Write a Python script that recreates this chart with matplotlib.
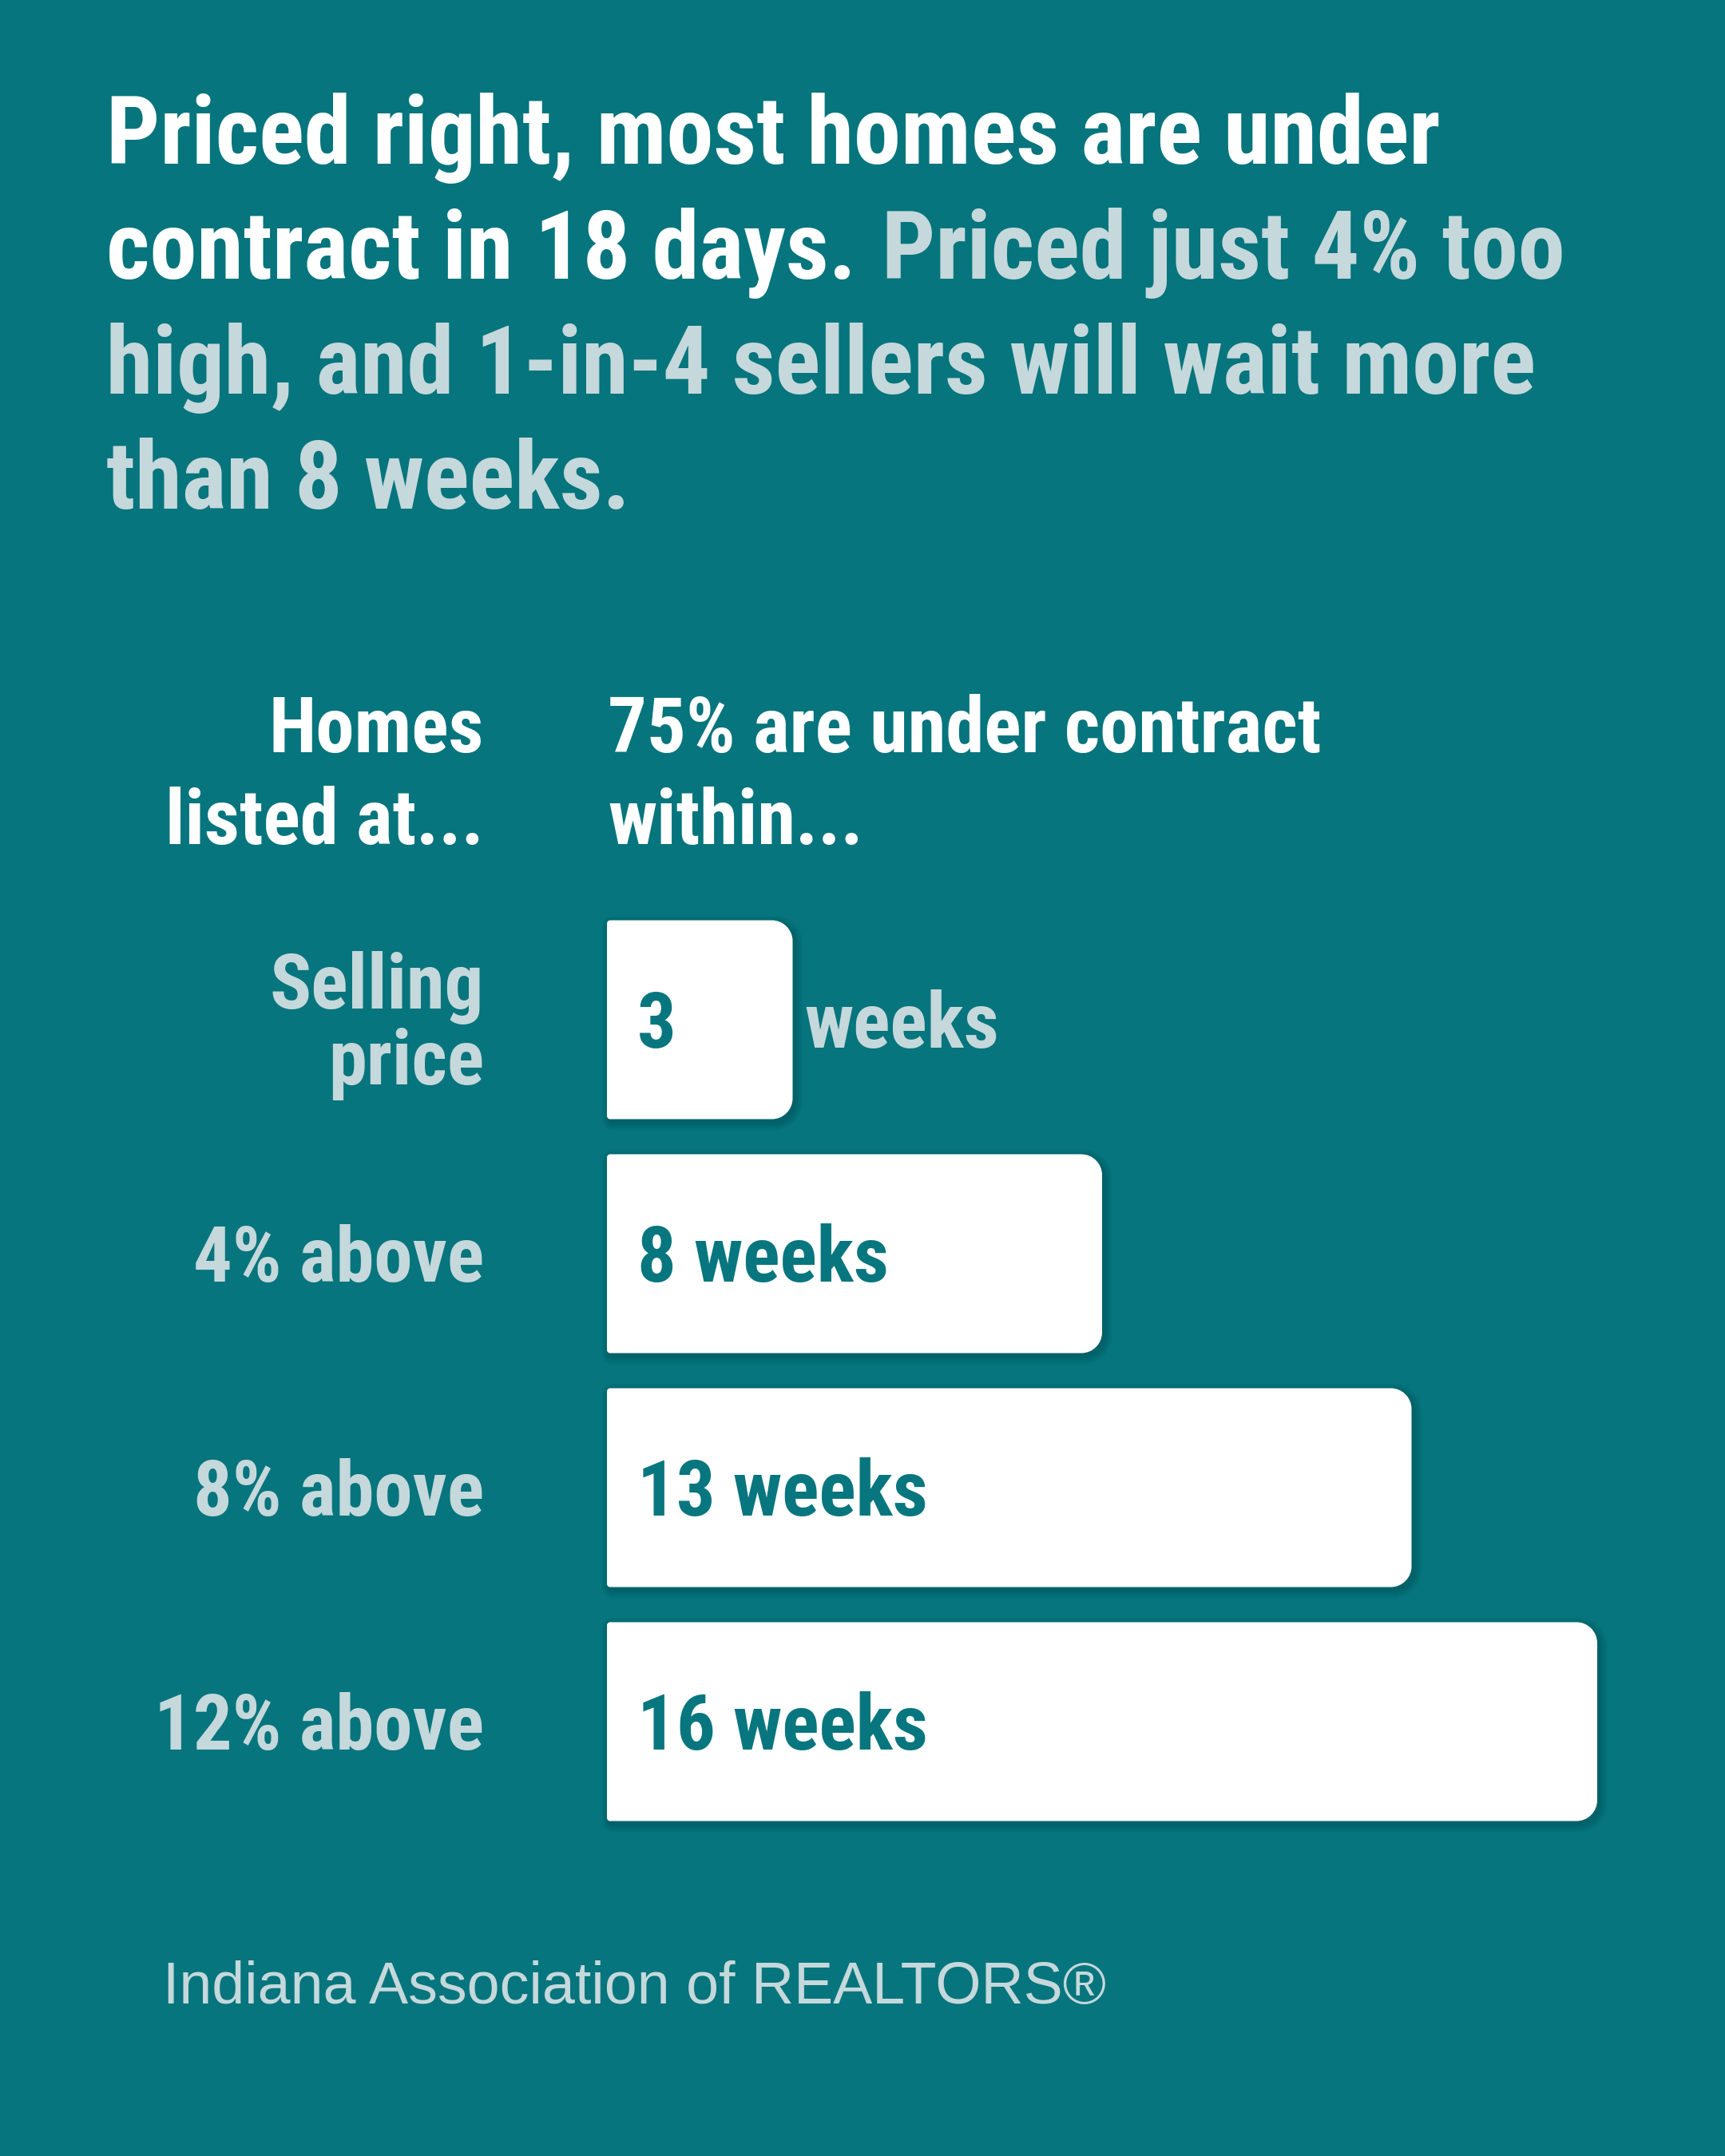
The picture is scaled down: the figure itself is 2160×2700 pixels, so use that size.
import matplotlib
matplotlib.use("Agg")
import matplotlib.pyplot as plt
from matplotlib import font_manager
from matplotlib.path import Path
from matplotlib.patches import PathPatch
from matplotlib.transforms import IdentityTransform

# data
price_levels = ["Selling\nprice", "4% above", "8% above", "12% above"]
weeks = [3, 8, 13, 16]
bar_labels = ["3", "8 weeks", "13 weeks", "16 weeks"]
outside_label = "weeks"  # only the short first bar puts the unit outside

title_lines = [
    [("Priced right, most homes are under", "white")],
    [("contract in 18 days.", "white"), ("Priced just 4% too", "light")],
    [("high, and 1-in-4 sellers will wait more", "light")],
    [("than 8 weeks.", "light")],
]
header_left = ["Homes", "listed at..."]
header_right = ["75% are under contract", "within..."]
footer = "Indiana Association of REALTORS\u00ae"

BG = "#06757D"
LIGHT = "#C5D8DB"
WHITE = "#FFFFFF"
TEAL = "#08767E"
colors = {"white": WHITE, "light": LIGHT}

names = {f.name for f in font_manager.fontManager.ttflist}
cond = "DejaVu Sans"
for cand in ["Liberation Sans Narrow", "Roboto Condensed", "Open Sans Condensed", "Noto Sans Condensed"]:
    if cand in names:
        cond = cand
        break
regular = "Liberation Sans" if "Liberation Sans" in names else "DejaVu Sans"

W, H = 2160, 2700
fig = plt.figure(figsize=(W / 100, H / 100), dpi=100, facecolor=BG)
canvas = fig.add_axes([0, 0, 1, 1])
canvas.set_xlim(0, W)
canvas.set_ylim(H, 0)
canvas.axis("off")
renderer = fig.canvas.get_renderer()


def text_width(s, size, family, weight="bold"):
    t = canvas.text(0, 0, s, fontsize=size, family=family, weight=weight)
    w = t.get_window_extent(renderer).width
    t.remove()
    return w


def fit_size(s, target, family, weight="bold"):
    return 60 * target / text_width(s, 60, family, weight)


# title, sized so that the first line spans the same width as the reference
title_size = fit_size(title_lines[0][0][0], 1672, cond)
title_x = 133
title_base = [205, 349, 493, 637]
gap = 0.27 * title_size * 100 / 72
for base, segs in zip(title_base, title_lines):
    x = title_x
    for s, c in segs:
        canvas.text(x, base, s, fontsize=title_size, family=cond, weight="bold",
                    color=colors[c], va="baseline", ha="left")
        x += text_width(s, title_size, cond) + gap

# column headers
hdr_size = fit_size(header_right[0], 894, cond)
for base, l, r in zip([942, 1057], header_left, header_right):
    canvas.text(606, base, l, fontsize=hdr_size, family=cond, weight="bold",
                color=WHITE, va="baseline", ha="right")
    canvas.text(761, base, r, fontsize=hdr_size, family=cond, weight="bold",
                color=WHITE, va="baseline", ha="left")

# bars: x axis in weeks, ~77.5 px per week, rows 293 px apart
px_week = 77.5
row_gap = 293
ax_left, ax_right = 760, 2150
ax_top, ax_bot = 1277 - row_gap / 2, 1277 + row_gap * 3.5
ax = fig.add_axes([ax_left / W, 1 - ax_bot / H, (ax_right - ax_left) / W, (ax_bot - ax_top) / H])
ax.set_xlim(0, (ax_right - ax_left) / px_week)
ax.set_ylim(len(weeks) - 0.5, -0.5)
ax.axis("off")
ax.patch.set_alpha(0)
bars = ax.barh(range(len(weeks)), weeks, height=0.85, color="none")


def bar_path(x0, y0, x1, y1, r, rl):
    # display coords, y0 bottom, y1 top; right corners rounded by r, left by rl
    k = 0.5523
    verts = [
        (x0 + rl, y0), (x1 - r, y0),
        (x1 - r + k * r, y0), (x1, y0 + r - k * r), (x1, y0 + r),
        (x1, y1 - r),
        (x1, y1 - r + k * r), (x1 - r + k * r, y1), (x1 - r, y1),
        (x0 + rl, y1),
        (x0 + rl - k * rl, y1), (x0, y1 - rl + k * rl), (x0, y1 - rl),
        (x0, y0 + rl),
        (x0, y0 + rl - k * rl), (x0 + rl - k * rl, y0), (x0 + rl, y0),
        (x0 + rl, y0),
    ]
    codes = [Path.MOVETO, Path.LINETO,
             Path.CURVE4, Path.CURVE4, Path.CURVE4,
             Path.LINETO,
             Path.CURVE4, Path.CURVE4, Path.CURVE4,
             Path.LINETO,
             Path.CURVE4, Path.CURVE4, Path.CURVE4,
             Path.LINETO,
             Path.CURVE4, Path.CURVE4, Path.CURVE4,
             Path.CLOSEPOLY]
    return Path(verts, codes)


for i, b in enumerate(bars):
    bb = b.get_window_extent(renderer)
    x0, y0, x1, y1 = bb.x0, bb.y0, bb.x1, bb.y1
    # soft shadow
    for s in range(10, 0, -1):
        sp = bar_path(x0 - s + 3, y0 - s - 4, x1 + s + 3, y1 + s - 4, 26 + s, 4 + s)
        canvas.add_patch(PathPatch(sp, transform=IdentityTransform(), facecolor="#02444A",
                                   edgecolor="none", alpha=0.035, zorder=1))
    canvas.add_patch(PathPatch(bar_path(x0, y0, x1, y1, 26, 4), transform=IdentityTransform(),
                               facecolor=WHITE, edgecolor="none", zorder=2))

# labels inside/outside bars and row labels
for i, (lvl, lab) in enumerate(zip(price_levels, bar_labels)):
    base = 1277 + row_gap * i + 35
    canvas.text(798, base, lab, fontsize=hdr_size, family=cond, weight="bold",
                color=TEAL, va="baseline", ha="left", zorder=5)
    lines = lvl.split("\n")
    if len(lines) == 2:
        bases = [base - 49, base + 46]
    else:
        bases = [base]
    for bl, s in zip(bases, lines):
        canvas.text(606, bl, s, fontsize=hdr_size, family=cond, weight="bold",
                    color=LIGHT, va="baseline", ha="right")

b0 = bars[0].get_window_extent(renderer)
canvas.text(b0.x1 + 15, 1277 + 35, outside_label, fontsize=hdr_size, family=cond,
            weight="bold", color=LIGHT, va="baseline", ha="left")

# footer
foot_size = fit_size(footer, 1181, regular, "normal")
canvas.text(204, 2509, footer, fontsize=foot_size, family=regular, color=LIGHT,
            va="baseline", ha="left")

fig.savefig("out.png", dpi=100, facecolor=BG)
